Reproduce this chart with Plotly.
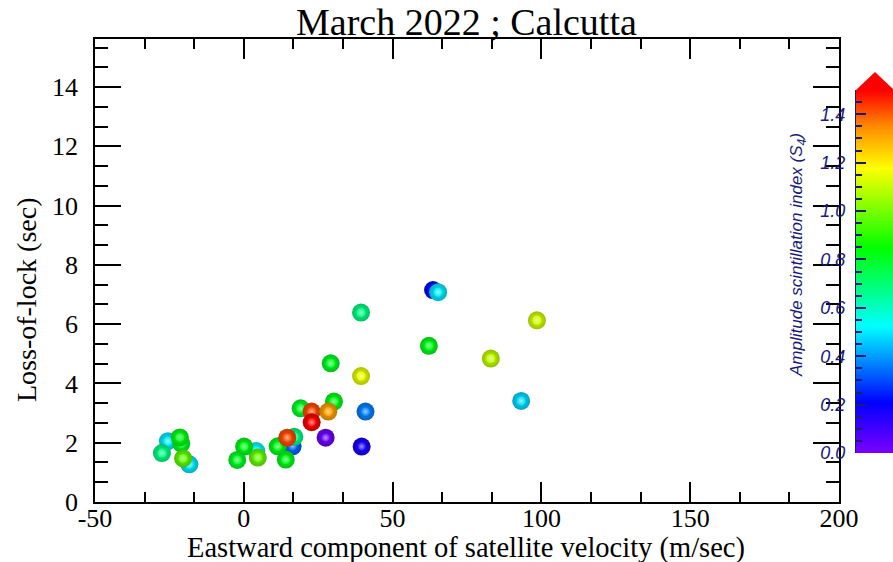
import plotly.graph_objects as go
from plotly.colors import sample_colorscale, unlabel_rgb

# ---------------- data ----------------
velocity = [-25.5, -18.3, -27.5, -21.0, -21.5, -20.4,
            4.2, 0.1, -2.2, 4.7,
            16.4, 17.0, 11.4, 14.1, 14.6,
            19.1, 30.3, 22.8, 28.4, 22.8,
            27.5, 29.2, 39.6, 40.9, 39.4, 39.4,
            62.2, 63.6, 65.3, 83.0, 93.2, 98.5]
loss_of_lock = [2.05, 1.27, 1.65, 1.97, 2.18, 1.47,
                1.72, 1.87, 1.42, 1.50,
                1.88, 2.20, 1.88, 1.43, 2.17,
                3.16, 3.39, 3.05, 3.05, 2.69,
                2.17, 4.68, 1.87, 3.05, 4.25, 6.39,
                5.27, 7.15, 7.08, 4.84, 3.41, 6.13]
s4_index = [0.50, 0.50, 0.68, 0.80, 0.82, 0.97,
            0.52, 0.82, 0.80, 0.98,
            0.33, 0.68, 0.82, 0.82, 1.42,
            0.80, 0.82, 1.42, 1.32, 1.50,
            0.03, 0.80, 0.17, 0.37, 1.15, 0.68,
            0.82, 0.22, 0.50, 1.10, 0.48, 1.12]

x_tick_vals = [-50, 0, 50, 100, 150, 200]
x_tick_text = ["-50", "0", "50", "100", "150", "200"]
y_tick_vals = [0, 2, 4, 6, 8, 10, 12, 14]
s4_tick_vals = [0.0, 0.2, 0.4, 0.6, 0.8, 1.0, 1.2, 1.4]
s4_range = [0.0, 1.5]

title_text = "March 2022 ; Calcutta"
x_title = "Eastward component of satellite velocity (m/sec)"
y_title = "Loss-of-lock (sec)"
cb_title = "Amplitude scintillation index (S<sub>4</sub>)"

# ---------------- styling ----------------
W, H = 893, 562
rainbow = [[0.0, "rgb(125,0,255)"], [0.14, "rgb(0,0,255)"], [0.35, "rgb(0,255,255)"],
           [0.565, "rgb(0,255,0)"], [0.785, "rgb(255,255,0)"], [0.9, "rgb(255,140,0)"],
           [1.0, "rgb(255,0,0)"]]
serif = "Liberation Serif, Times New Roman, serif"
sans = "Liberation Sans, Arial, sans-serif"
navy = "#1a1a7a"

fig = go.Figure()

base_cols = sample_colorscale(rainbow, [v / s4_range[1] for v in s4_index])


def shade(col, f):
    r, g, b = unlabel_rgb(col)
    return "rgb(%d,%d,%d)" % (r * f, g * f, b * f)


def tint(col, f):
    r, g, b = unlabel_rgb(col)
    return "rgb(%d,%d,%d)" % (r + (255 - r) * f, g + (255 - g) * f, b + (255 - b) * f)


for xv, yv, col in zip(velocity, loss_of_lock, base_cols):
    # sphere body
    fig.add_trace(go.Scatter(
        x=[xv], y=[yv], mode="markers", showlegend=False, hoverinfo="skip",
        marker=dict(size=18, color=shade(col, 0.75),
                    gradient=dict(type="radial", color=col),
                    line=dict(width=0))))
    # highlight
    fig.add_trace(go.Scatter(
        x=[xv], y=[yv], mode="markers", showlegend=False, hoverinfo="skip",
        marker=dict(size=9, color=col,
                    gradient=dict(type="radial", color=tint(col, 0.6)),
                    line=dict(width=0))))

# colour bar as a smooth heatmap in its own small axes
fig.add_trace(go.Heatmap(
    x=[0, 1], y=s4_range, z=[[v, v] for v in s4_range],
    colorscale=rainbow, zmin=s4_range[0], zmax=s4_range[1], zsmooth="best",
    showscale=False, xaxis="x2", yaxis="y2", hoverinfo="skip"))

px_x = lambda p: p / W
px_y = lambda p: 1 - p / H

axis_common = dict(showline=True, linecolor="black", linewidth=1.5, mirror="ticks",
                   ticks="inside", tickcolor="black", tickwidth=1.5,
                   showgrid=False, zeroline=False, automargin=False,
                   tickfont=dict(family=serif, size=26, color="black"))

fig.update_layout(
    width=W, height=H, margin=dict(l=0, r=0, t=0, b=0, autoexpand=False),
    plot_bgcolor="white", paper_bgcolor="white", showlegend=False,
    xaxis=dict(domain=[px_x(95), px_x(839)], range=[-50, 200],
               tickmode="array", tickvals=x_tick_vals, ticktext=x_tick_text,
               ticklen=20, ticklabelstandoff=-8,
               minor=dict(tick0=-50, dtick=50 / 3, ticks="inside", ticklen=10,
                          tickwidth=1.5, tickcolor="black", showgrid=False),
               **axis_common),
    yaxis=dict(domain=[px_y(502), px_y(39)], range=[0, 15.62],
               tickmode="array", tickvals=y_tick_vals,
               ticklen=26, ticklabelstandoff=10,
               minor=dict(tick0=0, dtick=2 / 3, ticks="inside", ticklen=13,
                          tickwidth=1.5, tickcolor="black", showgrid=False),
               **axis_common),
    xaxis2=dict(domain=[px_x(856), 1.0], range=[0.2, 0.8], anchor="y2", visible=False,
                fixedrange=True, automargin=False),
    yaxis2=dict(domain=[px_y(453), px_y(90)], range=s4_range, anchor="x2", side="left",
                showline=True, linecolor=navy, linewidth=1, ticks="inside", ticklen=10,
                tickcolor=navy, tickwidth=1.5, tickmode="array", tickvals=s4_tick_vals,
                tickformat=".1f", automargin=False, fixedrange=True,
                ticklabelstandoff=6, showgrid=False, zeroline=False,
                tickfont=dict(family=sans, size=18, color=navy, style="italic"),
                minor=dict(tick0=0, dtick=0.05, ticks="inside", ticklen=6,
                           tickcolor=navy, tickwidth=1.5, showgrid=False)),
    shapes=[dict(type="path", xref="paper", yref="paper",
                 path="M %f,%f L %f,%f L %f,%f Z" % (px_x(856), px_y(90), px_x(875), px_y(72),
                                                     px_x(894), px_y(90)),
                 fillcolor="rgb(255,0,0)", line=dict(width=0))],
    annotations=[
        dict(text=title_text, xref="paper", yref="paper", x=px_x(466), y=px_y(22),
             xanchor="center", yanchor="middle", showarrow=False,
             font=dict(family=serif, size=38, color="black")),
        dict(text=x_title, xref="paper", yref="paper", x=px_x(466), y=px_y(548),
             xanchor="center", yanchor="middle", showarrow=False,
             font=dict(family=serif, size=28.5, color="black")),
        dict(text=y_title, xref="paper", yref="paper", x=px_x(27), y=px_y(300),
             xanchor="center", yanchor="middle", showarrow=False, textangle=-90,
             font=dict(family=serif, size=28, color="black")),
        dict(text=cb_title, xref="paper", yref="paper", x=px_x(798), y=px_y(255),
             xanchor="center", yanchor="middle", showarrow=False, textangle=-90,
             font=dict(family=sans, size=17, color=navy, style="italic")),
    ],
)

fig.write_html("out.html", config={"displayModeBar": False},
               post_script="document.body.style.margin='0px';"
                           "document.body.style.overflow='hidden';")
